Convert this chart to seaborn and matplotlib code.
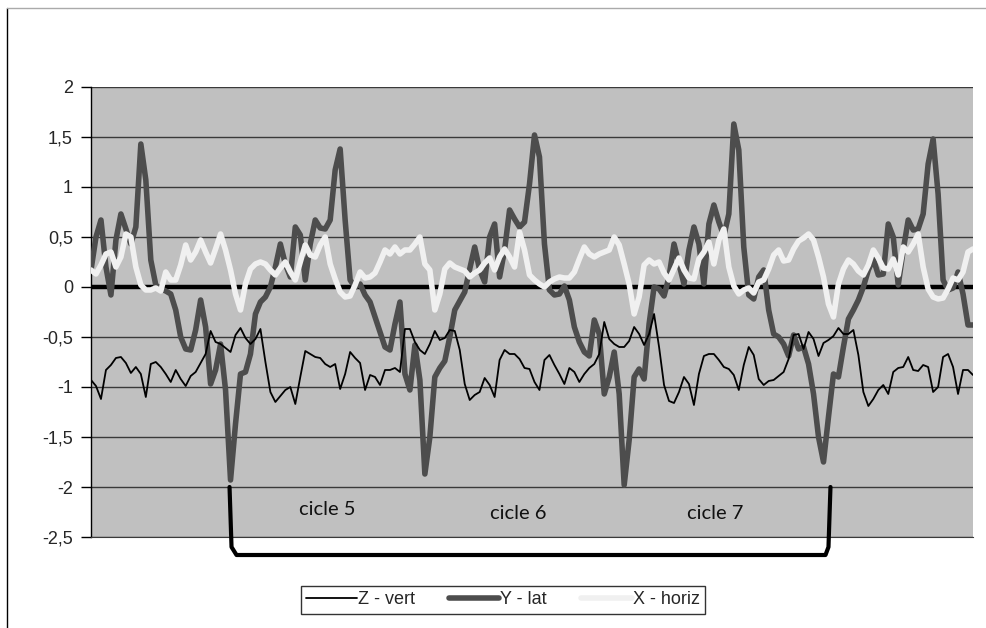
import matplotlib
matplotlib.use("Agg")
import matplotlib.pyplot as plt
from matplotlib.lines import Line2D
from matplotlib.ticker import FuncFormatter
import numpy as np
import pandas as pd
import seaborn as sns

# valores (amostras igualmente espacadas)
z_vert = [
    -0.93, -0.99, -1.12, -0.83, -0.78, -0.71, -0.70, -0.76, -0.86, -0.80,
    -0.87, -1.10, -0.77, -0.75, -0.80, -0.87, -0.95, -0.83, -0.92, -0.99,
    -0.89, -0.85, -0.76, -0.67, -0.44, -0.55, -0.57, -0.61, -0.65, -0.48,
    -0.41, -0.51, -0.57, -0.52, -0.42, -0.75, -1.05, -1.15, -1.09, -1.03,
    -1.00, -1.17, -0.90, -0.64, -0.67, -0.70, -0.71, -0.77, -0.80, -0.77,
    -1.02, -0.87, -0.65, -0.71, -0.76, -1.03, -0.88, -0.90, -0.98, -0.83,
    -0.83, -0.81, -0.85, -0.42, -0.42, -0.55, -0.63, -0.67, -0.57, -0.44,
    -0.53, -0.51, -0.43, -0.44, -0.63, -0.97, -1.13, -1.08, -1.05, -0.91,
    -0.98, -1.10, -0.73, -0.63, -0.67, -0.67, -0.72, -0.81, -0.82, -0.95,
    -1.03, -0.73, -0.68, -0.78, -0.87, -0.97, -0.81, -0.85, -0.95, -0.87,
    -0.81, -0.77, -0.67, -0.35, -0.52, -0.57, -0.60, -0.60, -0.54, -0.40,
    -0.47, -0.58, -0.47, -0.27, -0.60, -0.98, -1.14, -1.16, -1.05, -0.90,
    -0.97, -1.18, -0.87, -0.69, -0.67, -0.67, -0.73, -0.80, -0.82, -0.88,
    -1.03, -0.78, -0.60, -0.68, -0.92, -0.98, -0.94, -0.93, -0.89, -0.85,
    -0.72, -0.48, -0.47, -0.62, -0.45, -0.52, -0.69, -0.56, -0.53,
    -0.49, -0.41, -0.47, -0.47, -0.43, -0.68, -1.05, -1.19, -1.12, -1.03,
    -0.98, -1.07, -0.85, -0.81, -0.80, -0.70, -0.83, -0.84, -0.78, -0.80,
    -1.05, -1.00, -0.70, -0.67, -0.80, -1.07, -0.83, -0.83, -0.88,
]
y_lat = [
    0.17, 0.50, 0.67, 0.20, -0.08, 0.47, 0.73, 0.58, 0.43, 0.60,
    1.43, 1.07, 0.27, 0.02, -0.02, -0.04, -0.07, -0.23, -0.50, -0.62,
    -0.63, -0.43, -0.13, -0.40, -0.97, -0.83, -0.57, -1.03, -1.93, -1.37,
    -0.87, -0.85, -0.67, -0.27, -0.15, -0.10, 0.00, 0.20, 0.43, 0.23,
    0.10, 0.60, 0.52, 0.07, 0.43, 0.67, 0.59, 0.58, 0.67, 1.17,
    1.38, 0.67, 0.07, 0.00, 0.03, -0.08, -0.15, -0.30, -0.45, -0.60,
    -0.63, -0.37, -0.15, -0.87, -1.03, -0.58, -0.93, -1.87, -1.50, -0.90,
    -0.81, -0.74, -0.50, -0.23, -0.14, -0.05, 0.18, 0.40, 0.17, 0.05,
    0.50, 0.63, 0.10, 0.37, 0.77, 0.68, 0.60, 0.65, 1.03, 1.52,
    1.30, 0.43, -0.03, -0.08, -0.07, 0.01, -0.13, -0.40, -0.55, -0.65,
    -0.69, -0.33, -0.47, -1.07, -0.90, -0.65, -1.07, -1.98, -1.53, -0.90,
    -0.82, -0.92, -0.37, 0.00, -0.02, -0.09, 0.10, 0.43, 0.23, 0.03,
    0.37, 0.60, 0.43, 0.03, 0.63, 0.82, 0.65, 0.51, 0.73, 1.63,
    1.37, 0.40, -0.08, -0.12, 0.10, 0.17, -0.23, -0.47, -0.50, -0.57,
    -0.69, -0.48, -0.62, -0.60, -0.77, -1.07, -1.50, -1.75, -1.30,
    -0.87, -0.90, -0.60, -0.32, -0.23, -0.13, 0.00, 0.17, 0.28, 0.12,
    0.13, 0.63, 0.50, 0.02, 0.37, 0.67, 0.57, 0.58, 0.73, 1.23,
    1.48, 0.93, 0.07, -0.03, -0.01, 0.15, -0.07, -0.38, -0.38,
]
x_horiz = [
    0.17, 0.13, 0.22, 0.33, 0.35, 0.20, 0.30, 0.53, 0.50, 0.20,
    0.02, -0.03, -0.03, -0.01, -0.04, 0.15, 0.07, 0.07, 0.22, 0.42,
    0.27, 0.35, 0.47, 0.35, 0.24, 0.38, 0.53, 0.37, 0.17, -0.07,
    -0.23, 0.03, 0.18, 0.23, 0.25, 0.23, 0.17, 0.12, 0.19, 0.25,
    0.15, 0.07, 0.25, 0.42, 0.32, 0.30, 0.42, 0.50, 0.23, 0.08,
    -0.05, -0.10, -0.09, 0.02, 0.15, 0.09, 0.10, 0.14, 0.25, 0.37,
    0.33, 0.40, 0.33, 0.37, 0.37, 0.43, 0.50, 0.23, 0.17, -0.23,
    -0.07, 0.18, 0.24, 0.20, 0.18, 0.16, 0.10, 0.14, 0.17, 0.24,
    0.29, 0.17, 0.30, 0.38, 0.30, 0.20, 0.55, 0.37, 0.12, 0.07,
    0.03, 0.00, 0.05, 0.08, 0.10, 0.09, 0.09, 0.15, 0.28, 0.40,
    0.33, 0.30, 0.33, 0.35, 0.37, 0.50, 0.42, 0.23, 0.03, -0.27,
    -0.10, 0.22, 0.27, 0.23, 0.25, 0.14, 0.07, 0.18, 0.29, 0.17,
    0.09, 0.08, 0.28, 0.35, 0.45, 0.23, 0.47, 0.58, 0.20, 0.01,
    -0.07, -0.03, -0.01, -0.06, 0.05, 0.07, 0.18, 0.32, 0.37, 0.26,
    0.27, 0.38, 0.46, 0.49, 0.53, 0.47, 0.30, 0.10, -0.17,
    -0.30, 0.03, 0.18, 0.27, 0.23, 0.16, 0.12, 0.22, 0.37, 0.29,
    0.19, 0.18, 0.28, 0.12, 0.40, 0.35, 0.43, 0.53, 0.20, -0.02,
    -0.10, -0.12, -0.11, -0.02, 0.09, 0.07, 0.15, 0.35, 0.38,
]
series_names = ["Z - vert", "Y - lat", "X - horiz"]
series_colors = ["#000000", "#4d4d4d", "#f0f0f0"]
series_widths = [1.3, 4.0, 4.0]
y_ticks = [2, 1.5, 1, 0.5, 0, -0.5, -1, -1.5, -2, -2.5]
cicle_labels = ["cicle 5", "cicle 6", "cicle 7"]

df = pd.DataFrame({"t": np.arange(len(y_lat)),
                   "Z - vert": z_vert, "Y - lat": y_lat, "X - horiz": x_horiz})

sns.set_style("white")
plt.rcParams["font.family"] = ["Liberation Sans", "DejaVu Sans"]

fig = plt.figure(figsize=(9.86, 6.28), dpi=100)
ax = fig.add_axes([0.0923, 0.1449, 0.8945, 0.7166])
ax.set_facecolor("#c0c0c0")

# grade horizontal
for v in y_ticks:
    if v == 0:
        ax.axhline(0, color="black", lw=3.2, zorder=2)
    else:
        ax.axhline(v, color="#3a3a3a", lw=1.0, zorder=1)

zorders = [4, 3, 5]
for name, c, w, z in zip(series_names, series_colors, series_widths, zorders):
    sns.lineplot(data=df, x="t", y=name, color=c, lw=w, ax=ax, zorder=z,
                 label=name, solid_capstyle="round", solid_joinstyle="round")

ax.set_xlim(0, len(y_lat) - 1)
ax.set_ylim(-2.5, 2)
ax.set_yticks(y_ticks)
ax.yaxis.set_major_formatter(FuncFormatter(lambda v, p: f"{v:g}".replace(".", ",")))
ax.tick_params(axis="y", direction="out", length=7, width=1, color="black",
               labelsize=13, pad=6, left=True)
ax.set_xticks([])
ax.set_xlabel("")
ax.set_ylabel("")
for s in ["top", "right"]:
    ax.spines[s].set_visible(False)
ax.spines["left"].set_color("black")
ax.spines["bottom"].set_color("#3a3a3a")
ax.spines["left"].set_linewidth(1)
ax.legend_.remove()

# chave dos ciclos
bx = [27.8, 28.2, 29.2, 147.4, 148.0, 148.4]
by = [-2.0, -2.6, -2.68, -2.68, -2.6, -2.0]
ax.plot(bx, by, color="black", lw=3, clip_on=False, zorder=6,
        solid_joinstyle="round")
for lab, xp, yp in zip(cicle_labels, [47.4, 85.8, 125.2], [-2.22, -2.26, -2.26]):
    ax.text(xp, yp, lab, ha="center", va="center", fontsize=14.5,
            family=["Lato", "DejaVu Sans"], color="#111111", zorder=6)

handles = [Line2D([0], [0], color=c, lw=w) for c, w in zip(series_colors, series_widths)]
leg = fig.legend(handles, series_names, loc="center", bbox_to_anchor=(0.51, 0.0446),
                 ncol=3, fontsize=13, frameon=True, fancybox=False,
                 handlelength=2.8, handletextpad=0.05, columnspacing=1.9,
                 borderpad=0.3, borderaxespad=0.2)
leg.get_frame().set_edgecolor("black")
leg.get_frame().set_linewidth(1)

# moldura externa
fig.add_artist(Line2D([7 / 986, 7 / 986], [0, 1 - 8 / 628], color="black", lw=1))
fig.add_artist(Line2D([7 / 986, 1], [1 - 8 / 628, 1 - 8 / 628], color="#aaaaaa", lw=1))

fig.savefig("out.png", dpi=100, facecolor="white")
